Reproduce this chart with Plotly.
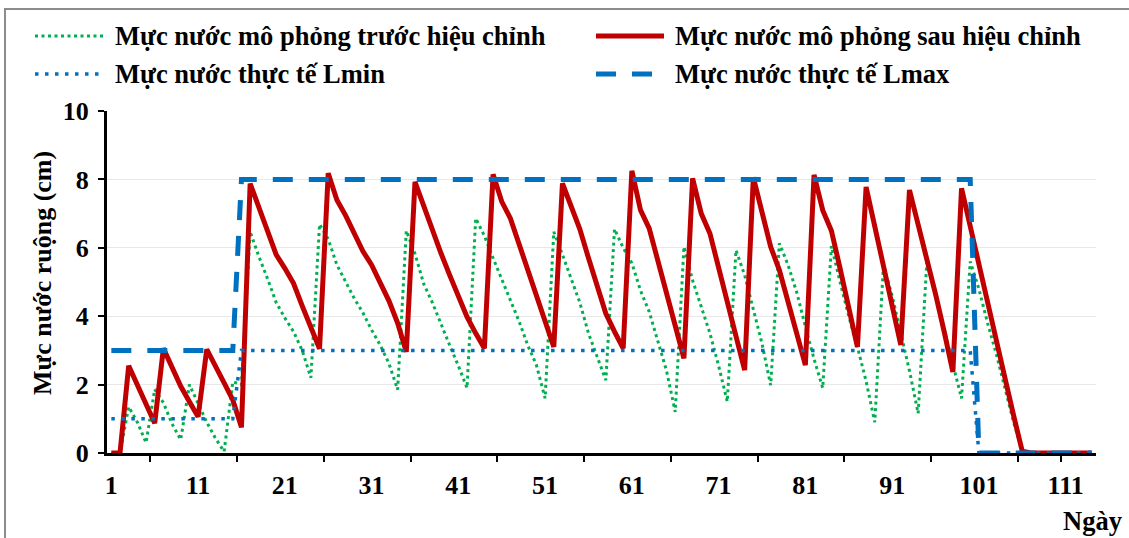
import plotly.graph_objects as go

# ---------------- data ----------------
days = list(range(1, 115))
tick_days = [1, 11, 21, 31, 41, 51, 61, 71, 81, 91, 101, 111]
tick_labels = ["1", "11", "21", "31", "41", "51", "61", "71", "81", "91", "101", "111"]

before_calib = [
    0, 0, 1.35, 0.9, 0.3, 1.86, 1.47, 0.85, 0.39, 2.0,
    1.45, 0.9, 0.43, 0.04, 2.08, 2.0, 6.47, 5.75, 5.1, 4.4,
    3.95, 3.55, 3.0, 2.2, 6.69, 6.25, 5.5, 5.0, 4.52, 4.1,
    3.6, 3.15, 2.62, 1.85, 6.5, 5.83, 4.95, 4.4, 3.75, 3.15,
    2.55, 1.9, 6.86, 6.35, 5.7, 5.1, 4.5, 3.85, 3.15, 2.57,
    1.6, 6.47, 5.8, 5.1, 4.4, 3.5, 2.8, 2.13, 6.55, 6.0,
    5.55, 4.75, 4.13, 3.3, 2.4, 1.2, 6.03, 5.05, 4.3, 3.5,
    2.55, 1.5, 5.93, 5.2, 4.2, 3.2, 1.98, 6.13, 5.5, 4.7,
    3.7, 2.75, 1.9, 6.05, 5.0, 4.0, 3.1, 2.1, 0.9, 5.5,
    4.6, 3.5, 2.4, 1.16, 5.6, 4.6, 3.6, 2.6, 1.6, 5.6,
    4.8, 3.8, 2.9, 1.9, 0.9, 0.05, 0, 0, 0, 0,
    0, 0, 0, 0,
]

after_calib = [
    0, 0, 2.55, 2.0, 1.43, 0.87, 3.06, 2.47, 1.95, 1.5,
    1.06, 3.03, 2.5, 2.05, 1.55, 0.75, 7.88, 7.2, 6.5, 5.8,
    5.4, 4.96, 4.3, 3.65, 3.05, 8.18, 7.4, 6.95, 6.45, 5.9,
    5.5, 5.0, 4.45, 3.8, 2.96, 7.93, 7.2, 6.5, 5.84, 5.2,
    4.6, 3.98, 3.5, 3.06, 8.15, 7.35, 6.86, 6.1, 5.35, 4.6,
    3.85, 3.1, 7.88, 7.2, 6.55, 5.7, 4.85, 4.08, 3.55, 3.06,
    8.25, 7.1, 6.57, 5.6, 4.65, 3.7, 2.77, 8.03, 7.0, 6.42,
    5.4, 4.4, 3.4, 2.42, 8.06, 7.0, 6.03, 5.35, 4.47, 3.5,
    2.57, 8.13, 7.1, 6.5, 5.4, 4.25, 3.1, 7.78, 6.6, 5.45,
    4.3, 3.16, 7.69, 6.7, 5.7, 4.65, 3.55, 2.37, 7.74, 6.6,
    5.5, 4.4, 3.3, 2.2, 1.1, 0.05, 0, 0, 0, 0,
    0, 0, 0, 0,
]

lmin = [
    1, 1, 1, 1, 1, 1, 1, 1, 1, 1,
    1, 1, 1, 1, 1, 3, 3, 3, 3, 3,
    3, 3, 3, 3, 3, 3, 3, 3, 3, 3,
    3, 3, 3, 3, 3, 3, 3, 3, 3, 3,
    3, 3, 3, 3, 3, 3, 3, 3, 3, 3,
    3, 3, 3, 3, 3, 3, 3, 3, 3, 3,
    3, 3, 3, 3, 3, 3, 3, 3, 3, 3,
    3, 3, 3, 3, 3, 3, 3, 3, 3, 3,
    3, 3, 3, 3, 3, 3, 3, 3, 3, 3,
    3, 3, 3, 3, 3, 3, 3, 3, 3, 3,
    0, 0, 0, 0, 0, 0, 0, 0, 0, 0,
    0, 0, 0, 0,
]

lmax = [
    3, 3, 3, 3, 3, 3, 3, 3, 3, 3,
    3, 3, 3, 3, 3, 8, 8, 8, 8, 8,
    8, 8, 8, 8, 8, 8, 8, 8, 8, 8,
    8, 8, 8, 8, 8, 8, 8, 8, 8, 8,
    8, 8, 8, 8, 8, 8, 8, 8, 8, 8,
    8, 8, 8, 8, 8, 8, 8, 8, 8, 8,
    8, 8, 8, 8, 8, 8, 8, 8, 8, 8,
    8, 8, 8, 8, 8, 8, 8, 8, 8, 8,
    8, 8, 8, 8, 8, 8, 8, 8, 8, 8,
    8, 8, 8, 8, 8, 8, 8, 8, 8, 8,
    0, 0, 0, 0, 0, 0, 0, 0, 0, 0,
    0, 0, 0, 0,
]

names = [
    "Mực nước mô phỏng trước hiệu chỉnh",
    "Mực nước mô phỏng sau hiệu chỉnh",
    "Mực nước thực tế Lmin",
    "Mực nước thực tế Lmax",
]

# ---------------- styling ----------------
W, H = 1129, 538
PL, PR, PT, PB = 107, 1096, 111, 453
FONT = "Liberation Serif"

GREEN, RED, BLUE = "#00B050", "#C00000", "#0070C0"
styles = [
    dict(color=GREEN, width=3, dash="3px,3.5px"),
    dict(color=RED, width=5, dash="solid"),
    dict(color=BLUE, width=3.5, dash="3.5px,6.5px"),
    dict(color=BLUE, width=5, dash="20px,16px"),
]

def xp(px):
    return (px - PL) / (PR - PL)

def yp(py):
    return (PB - py) / (PB - PT)

fig = go.Figure()
series = [before_calib, after_calib, lmin, lmax]
for name, vals, st in zip(names, series, styles):
    fig.add_trace(go.Scatter(x=days, y=vals, mode="lines", name=name,
                             line=st, showlegend=False, hoverinfo="skip"))

# manual legend (2 x 2)
shapes = []
annotations = []
legend_pos = [(35, 104, 113, 36), (596, 664, 673, 36), (35, 104, 113, 74), (596, 664, 673, 74)]
for name, st, (x0, x1, xt, yy) in zip(names, styles, legend_pos):
    shapes.append(dict(type="line", xref="paper", yref="paper",
                       x0=xp(x0), x1=xp(x1), y0=yp(yy), y1=yp(yy),
                       line=dict(color=st["color"], width=st["width"], dash=st["dash"])))
    annotations.append(dict(text=name, xref="paper", yref="paper", x=xp(xt), y=yp(yy),
                            xanchor="left", yanchor="middle", showarrow=False,
                            font=dict(family=FONT, size=26.5, color="black", weight="bold")))

# outer chart border
shapes.append(dict(type="rect", xref="paper", yref="paper",
                   x0=xp(5), x1=xp(1140), y0=yp(9), y1=yp(560),
                   line=dict(color="#8c8c8c", width=2), fillcolor="rgba(0,0,0,0)", layer="below"))

# axis titles
annotations.append(dict(text="Mực nước ruộng (cm)", xref="paper", yref="paper",
                        x=xp(42), y=yp(273), xanchor="center", yanchor="middle",
                        textangle=-90, showarrow=False,
                        font=dict(family=FONT, size=26, color="black", weight="bold")))
annotations.append(dict(text="Ngày", xref="paper", yref="paper",
                        x=xp(1124), y=yp(521), xanchor="right", yanchor="middle",
                        showarrow=False,
                        font=dict(family=FONT, size=26.5, color="black", weight="bold")))

fig.update_layout(
    width=W, height=H,
    margin=dict(l=PL, r=W - PR, t=PT, b=H - PB, pad=0),
    paper_bgcolor="white", plot_bgcolor="white",
    shapes=shapes, annotations=annotations,
    showlegend=False,
    xaxis=dict(
        range=[0.5, 114.5], tickmode="array", tickvals=tick_days, ticktext=tick_labels,
        ticks="", showgrid=False, zeroline=False,
        showline=True, linecolor="black", linewidth=3,
        tickfont=dict(family=FONT, size=26, color="black", weight="bold"),
        ticklabelstandoff=7,
        minor=dict(tickmode="array",
                   tickvals=[5.5, 15.5, 25.5, 35.5, 45.5, 55.5, 65.5, 75.5, 85.5, 95.5, 105.5, 110.5],
                   ticks="outside", ticklen=6, tickwidth=2, tickcolor="black", showgrid=False),
    ),
    yaxis=dict(
        range=[0, 10], tickmode="array", tickvals=[0, 2, 4, 6, 8, 10],
        ticks="outside", ticklen=6, tickwidth=2, tickcolor="black",
        showgrid=True, gridcolor="#e8e8e8", gridwidth=1, zeroline=False,
        showline=True, linecolor="black", linewidth=3,
        tickfont=dict(family=FONT, size=26, color="black", weight="bold"),
        ticklabelstandoff=4,
    ),
)

fig.write_html("out.html",
               config={"displayModeBar": False, "staticPlot": True},
               post_script="document.body.style.margin='0px';document.body.style.overflow='hidden';")
